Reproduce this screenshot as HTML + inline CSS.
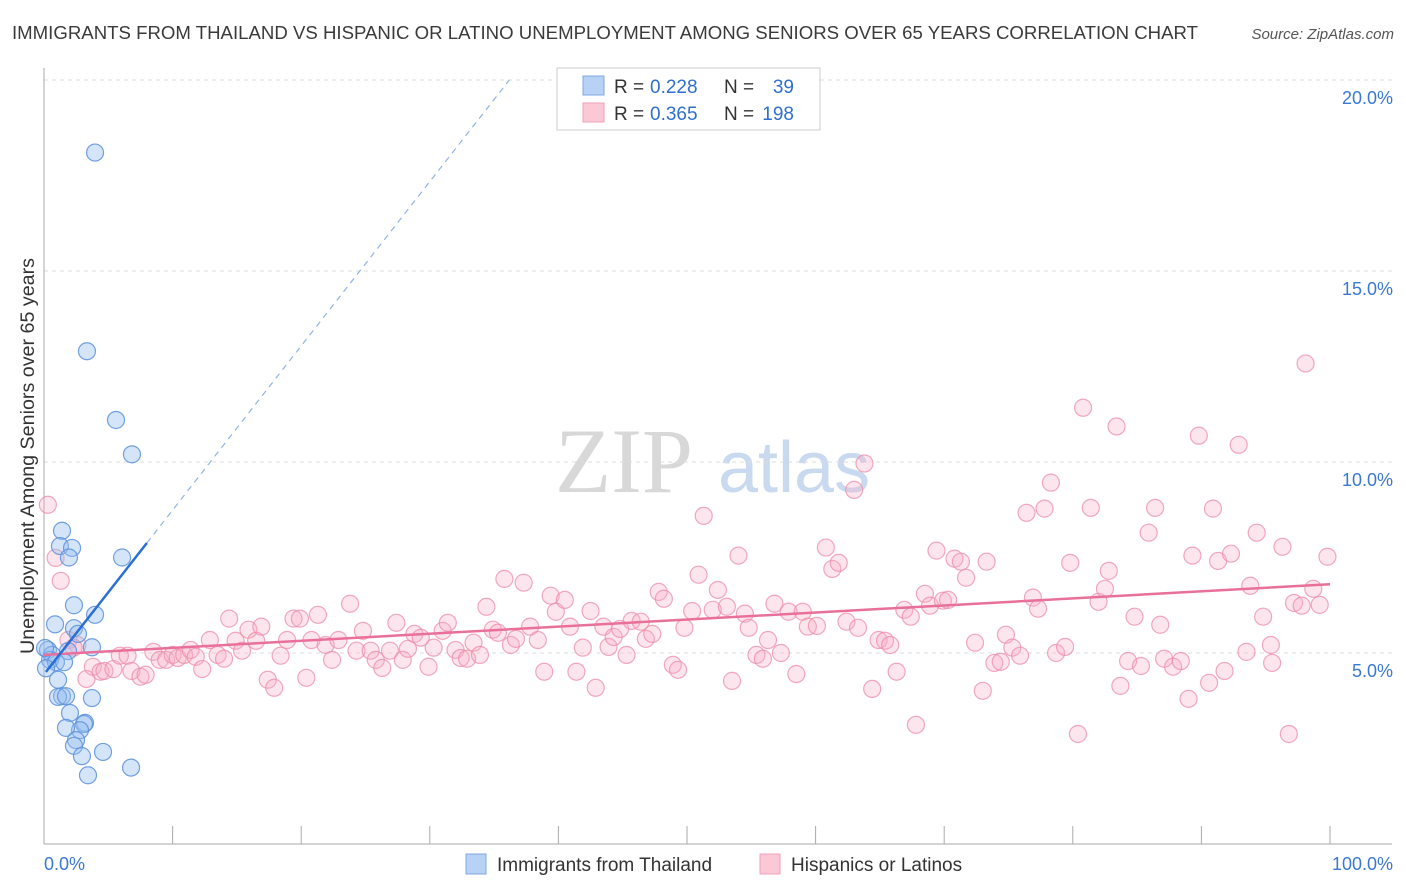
<!DOCTYPE html>
<html><head><meta charset="utf-8"><style>
body{margin:0;background:#fff;font-family:"Liberation Sans",sans-serif;}
svg{display:block}
</style></head><body>
<svg id="chart" width="1406" height="892" xmlns="http://www.w3.org/2000/svg">
<text x="12" y="39" font-size="18.6" fill="#3a3a3a" textLength="1186" lengthAdjust="spacingAndGlyphs">IMMIGRANTS FROM THAILAND VS HISPANIC OR LATINO UNEMPLOYMENT AMONG SENIORS OVER 65 YEARS CORRELATION CHART</text>
<text x="1394" y="39" font-size="15" fill="#555" font-style="italic" text-anchor="end">Source: ZipAtlas.com</text>
<g>
<text x="555" y="492" font-size="92" font-family="Liberation Serif" fill="#d8d8d8">ZIP</text>
<text x="718" y="492" font-size="72" fill="#c9d9ef">atlas</text>
</g>
<g id="grid"></g>
<g id="axes"></g>
<g id="pts"></g>
<g id="trends"></g>
<g>
<rect x="557" y="68" width="263" height="62" fill="#fff" stroke="#ccc"/>
<rect x="583" y="76" width="21" height="19" fill="#b8d2f5" stroke="#7ea8e0"/>
<rect x="583" y="103" width="21" height="19" fill="#fbc8d6" stroke="#f0a0b8"/>
<text x="614" y="93" font-size="19" fill="#333">R =</text>
<text x="650" y="93" font-size="19" fill="#2f6fd0">0.228</text>
<text x="724" y="93" font-size="19" fill="#333">N =</text>
<text x="794" y="93" font-size="19" fill="#2f6fd0" text-anchor="end">39</text>
<text x="614" y="120" font-size="19" fill="#333">R =</text>
<text x="650" y="120" font-size="19" fill="#2f6fd0">0.365</text>
<text x="724" y="120" font-size="19" fill="#333">N =</text>
<text x="794" y="120" font-size="19" fill="#2f6fd0" text-anchor="end">198</text>
</g>
<g>
<rect x="466" y="854" width="20" height="20" fill="#b8d2f5" stroke="#7ea8e0"/>
<text x="497" y="871" font-size="19" fill="#333">Immigrants from Thailand</text>
<rect x="760" y="854" width="20" height="20" fill="#fbc8d6" stroke="#f0a0b8"/>
<text x="791" y="871" font-size="19" fill="#333">Hispanics or Latinos</text>
</g>
<text transform="translate(34,456) rotate(-90)" font-size="19" fill="#333" text-anchor="middle" textLength="396" lengthAdjust="spacingAndGlyphs">Unemployment Among Seniors over 65 years</text>
</svg>
<script>
const yTicks=[5,10,15,20];
const yTickLabels=["5.0%","10.0%","15.0%","20.0%"];
const xTicks=[0,10,20,30,40,50,60,70,80,90,100];
const blueX=[3.97,3.34,5.6,6.84,1.4,1.24,2.18,1.94,6.07,2.33,3.97,0.86,2.33,2.64,3.73,1.87,0.31,0.62,0.47,0.93,1.56,0.16,1.09,1.4,1.09,1.71,3.73,2.02,3.19,3.11,2.8,1.71,2.49,2.33,2.95,4.59,3.42,6.77,0.08];
const blueY=[18.1,12.9,11.1,10.2,8.2,7.8,7.75,7.5,7.5,6.25,6.0,5.75,5.65,5.5,5.15,5.05,5.08,4.95,4.82,4.76,4.76,4.6,4.3,3.87,3.85,3.87,3.82,3.43,3.17,3.14,2.98,3.04,2.72,2.57,2.3,2.41,1.8,2.0,5.13];
const pinkX=[0.3,0.9,1.3,1.9,2.6,2.3,3.3,3.8,4.4,4.7,5.4,5.9,6.5,6.8,7.5,7.9,8.5,9.0,9.5,10.0,10.4,10.9,11.4,11.8,12.3,12.9,13.5,14.0,14.4,14.9,15.4,15.9,16.5,16.9,17.4,17.9,18.4,18.9,19.4,19.9,20.4,20.8,21.3,21.9,22.4,22.9,23.8,24.3,24.8,25.4,25.8,26.3,26.9,27.4,27.9,28.3,28.8,29.3,29.9,30.3,31.0,31.4,32.0,32.4,32.9,33.4,33.9,34.4,34.9,35.3,35.8,36.3,36.7,37.3,37.8,38.4,38.9,39.4,39.8,40.5,40.9,41.4,41.9,42.5,42.9,43.5,43.9,44.3,44.8,45.3,45.7,46.4,46.8,47.3,47.8,48.2,48.9,49.3,49.8,50.4,50.9,51.3,52.0,52.4,53.1,53.5,54.0,54.5,54.8,55.4,55.9,56.3,56.8,57.3,57.9,58.5,59.0,59.4,60.1,60.8,61.3,61.8,62.4,63.0,63.3,63.8,64.4,64.9,65.4,65.8,66.3,66.9,67.4,67.8,68.5,68.9,69.4,69.9,70.3,70.8,71.3,71.7,72.4,73.0,73.3,73.9,74.4,74.8,75.3,75.9,76.4,76.9,77.3,77.8,78.3,78.7,79.4,79.8,80.4,80.8,81.4,82.0,82.5,82.8,83.4,83.7,84.3,84.8,85.3,85.9,86.4,86.8,87.1,87.8,88.4,89.0,89.3,89.8,90.6,90.9,91.3,91.8,92.3,92.9,93.5,93.8,94.3,94.8,95.4,95.5,96.3,96.8,97.2,97.8,98.1,98.7,99.2,99.8];
const pinkY=[8.88,7.49,6.89,5.34,5.21,5.14,4.32,4.64,4.51,4.53,4.58,4.93,4.93,4.53,4.38,4.43,5.03,4.82,4.82,4.95,4.87,4.95,5.08,4.9,4.58,5.34,4.95,4.85,5.9,5.32,5.06,5.61,5.32,5.69,4.3,4.09,4.93,5.34,5.9,5.9,4.35,5.34,6.0,5.21,4.82,5.34,6.29,5.06,5.58,5.06,4.82,4.61,5.06,5.79,4.82,5.11,5.5,5.4,4.64,5.14,5.58,5.79,5.08,4.87,4.85,5.27,4.95,6.21,5.61,5.53,6.94,5.21,5.37,6.84,5.69,5.34,4.51,6.5,6.08,6.39,5.69,4.51,5.14,6.1,4.09,5.69,5.16,5.42,5.63,4.95,5.84,5.82,5.37,5.5,6.6,6.42,4.69,4.56,5.66,6.1,7.05,8.59,6.13,6.65,6.21,4.27,7.55,6.03,5.66,4.95,4.85,5.34,6.29,5.0,6.08,4.45,6.08,5.69,5.71,7.76,7.2,7.36,5.82,9.27,5.66,9.96,4.06,5.34,5.32,5.21,4.51,6.13,5.95,3.12,6.55,6.24,7.68,6.37,6.39,7.47,7.39,6.97,5.27,4.01,7.39,4.74,4.77,5.48,5.14,4.93,8.67,6.45,6.16,8.78,9.46,5.0,5.16,7.36,2.88,11.42,8.8,6.34,6.68,7.15,10.93,4.14,4.79,5.95,4.66,8.15,8.8,5.74,4.85,4.64,4.79,3.8,7.55,10.69,4.22,8.78,7.41,4.53,7.6,10.45,5.03,6.76,8.15,5.95,5.21,4.74,7.78,2.88,6.31,6.24,12.58,6.68,6.26,7.52];
const blueTrend=[4.44,0.43];
const pinkTrend=[4.95,6.8];
const NS="http://www.w3.org/2000/svg";
const X0=44,X1=1330,Y0=844,PY=38.2;
const sx=v=>X0+(X1-X0)*v/100;
const sy=v=>Y0-v*PY;
function mk(tag,attrs,parent){const e=document.createElementNS(NS,tag);for(const k in attrs)e.setAttribute(k,attrs[k]);parent.appendChild(e);return e;}
const grid=document.getElementById('grid'),axes=document.getElementById('axes'),pts=document.getElementById('pts'),tr=document.getElementById('trends');
yTicks.forEach((t,i)=>{
 const l=mk('line',{x1:X0,x2:1392,y1:sy(t),y2:sy(t),stroke:'#ddd','stroke-dasharray':'4,4'},grid);
 
 
 const tx=mk('text',{x:1393,y:sy(t)+24,'font-size':18,fill:'#3a78d4','text-anchor':'end'},axes);
 tx.textContent=yTickLabels[i];
 
 
});
mk('line',{x1:X0,x2:X0,y1:68,y2:Y0,stroke:'#aaa'},axes);
mk('line',{x1:X0,x2:1392,y1:Y0,y2:Y0,stroke:'#aaa'},axes);
xTicks.forEach(t=>{const l=mk('line',{x1:sx(t),x2:sx(t),y1:826,y2:Y0,stroke:'#aaa'},axes);
 
 });
const xl0=mk('text',{x:44,y:870,'font-size':18,fill:'#3a78d4'},axes);xl0.textContent='0.0%';


const xl1=mk('text',{x:1393,y:870,'font-size':18,fill:'#3a78d4','text-anchor':'end'},axes);xl1.textContent='100.0%';


pinkX.forEach((x,i)=>{const c=mk('circle',{cx:sx(x),cy:sy(pinkY[i]),r:8.5,fill:'rgba(248,175,198,0.32)',stroke:'rgba(236,140,170,0.75)','stroke-width':1.2},pts);
 
 });
blueX.forEach((x,i)=>{const c=mk('circle',{cx:sx(x),cy:sy(blueY[i]),r:8.5,fill:'rgba(150,190,240,0.4)',stroke:'rgba(90,145,220,0.85)','stroke-width':1.2},pts);
 
 });
const pl=mk('line',{x1:sx(0),y1:sy(pinkTrend[0]),x2:sx(100),y2:sy(pinkTrend[1]),stroke:'#e8709a','stroke-width':2.5},tr);


const bxEnd=8,bxDash=(20-blueTrend[0])/blueTrend[1];
const bl=mk('line',{x1:sx(0.15),y1:sy(blueTrend[0]+blueTrend[1]*0.15),x2:sx(bxEnd),y2:sy(blueTrend[0]+blueTrend[1]*bxEnd),stroke:'#2a6fd6','stroke-width':2.5},tr);


const bd=mk('line',{x1:sx(bxEnd),y1:sy(blueTrend[0]+blueTrend[1]*bxEnd),x2:sx(bxDash),y2:sy(20),stroke:'#8fb4e8','stroke-width':1.2,'stroke-dasharray':'6,5'},tr);


</script>
</body></html>
